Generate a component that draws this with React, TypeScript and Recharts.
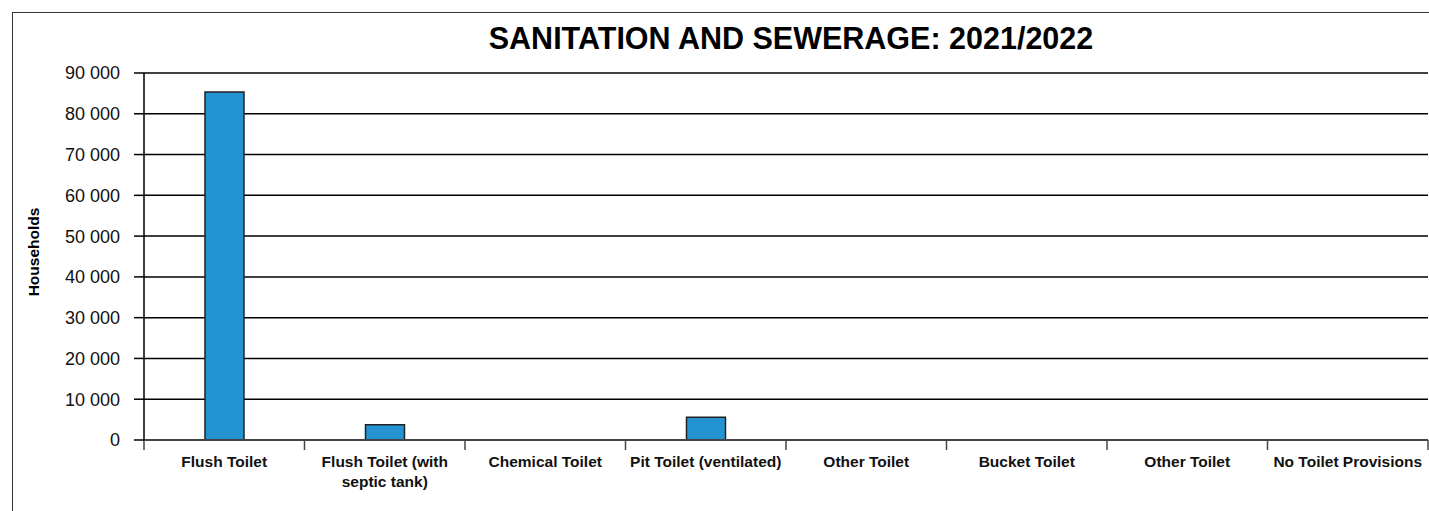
import React from 'react';
import { BarChart, Bar, XAxis, YAxis, CartesianGrid, Text } from 'recharts';

const categories = [
  'Flush Toilet',
  'Flush Toilet (with septic tank)',
  'Chemical Toilet',
  'Pit Toilet (ventilated)',
  'Other Toilet',
  'Bucket Toilet',
  'Other Toilet',
  'No Toilet Provisions',
];
const households = [85350, 3760, 0, 5570, 0, 0, 0, 0];
const yTicks = [0, 10000, 20000, 30000, 40000, 50000, 60000, 70000, 80000, 90000];
const edgeTicks = [0, 1, 2, 3, 4, 5, 6, 7, 8];
const title = 'SANITATION AND SEWERAGE: 2021/2022';
const yLabel = 'Households';

const data = categories.map((c, i) => ({ idx: i, name: c, value: households[i] }));

const FONT = '"Liberation Sans", Arial, Helvetica, sans-serif';

const fmt = (v: number) => {
  const s = String(v);
  return s.replace(/\B(?=(\d{3})+(?!\d))/g, ' ');
};

const CatTick = (props: any) => {
  const { x, y, payload } = props;
  return (
    <Text
      x={x}
      y={y}
      width={160}
      textAnchor="middle"
      verticalAnchor="start"
      lineHeight={20}
      style={{ fontFamily: FONT, fontSize: 15.5, fontWeight: 700, fill: '#111' }}
    >
      {categories[payload.value]}
    </Text>
  );
};

const NoTick = () => null;

export default function App() {
  return (
    <div style={{ position: 'absolute', left: 0, top: 0, width: 1429, height: 511, overflow: 'hidden', background: '#fff' }}>
      <div
        style={{
          position: 'absolute',
          left: 12,
          top: 12,
          width: 1417,
          height: 499,
          boxSizing: 'border-box',
          borderTop: '1.5px solid #333',
          borderLeft: '1.5px solid #333',
        }}
      />
      <div
        style={{
          position: 'absolute',
          left: 149,
          width: 1284,
          top: 23,
          fontFamily: FONT,
          fontSize: 30.5,
          lineHeight: '30px',
          fontWeight: 700,
          textAlign: 'center',
          color: '#000',
        }}
      >
        {title}
      </div>
      <div
        style={{
          position: 'absolute',
          left: 34 - 60,
          top: 252 - 10,
          width: 120,
          height: 20,
          lineHeight: '20px',
          textAlign: 'center',
          transform: 'rotate(-90deg)',
          fontFamily: FONT,
          fontSize: 15.5,
          fontWeight: 700,
          color: '#000',
        }}
      >
        {yLabel}
      </div>
      <div style={{ position: 'absolute', left: 0, top: 0 }}>
        <BarChart
          width={1429}
          height={511}
          data={data}
          margin={{ top: 73, right: 1, left: 0, bottom: 69 }}
          barCategoryGap="38%"
        >
          <CartesianGrid horizontal vertical={false} stroke="#000" strokeWidth={1.5} />
          <XAxis
            xAxisId="a_edges"
            type="number"
            dataKey="idx"
            domain={[0, 8]}
            allowDataOverflow
            ticks={edgeTicks}
            tick={NoTick}
            tickSize={10}
            axisLine={{ stroke: '#444', strokeWidth: 2 }}
            tickLine={{ stroke: '#444', strokeWidth: 1.5 }}
            height={1}
          />
          <XAxis
            xAxisId="b_cat"
            dataKey="idx"
            type="category"
            tick={<CatTick />}
            tickLine={false}
            tickSize={0}
            tickMargin={15}
            axisLine={false}
            interval={0}
            height={1}
          />
          <YAxis
            width={144}
            domain={[0, 90000]}
            ticks={yTicks}
            tickFormatter={fmt}
            tickSize={10}
            tickMargin={14}
            axisLine={{ stroke: '#000', strokeWidth: 1.5 }}
            tickLine={{ stroke: '#000', strokeWidth: 1.5 }}
            tick={{ fontFamily: FONT, fontSize: 18, fill: '#111' }}
          />
          <Bar
            xAxisId="b_cat"
            dataKey="value"
            fill="#2394D1"
            stroke="#222"
            strokeWidth={1.5}
            isAnimationActive={false}
          />
        </BarChart>
      </div>
    </div>
  );
}
